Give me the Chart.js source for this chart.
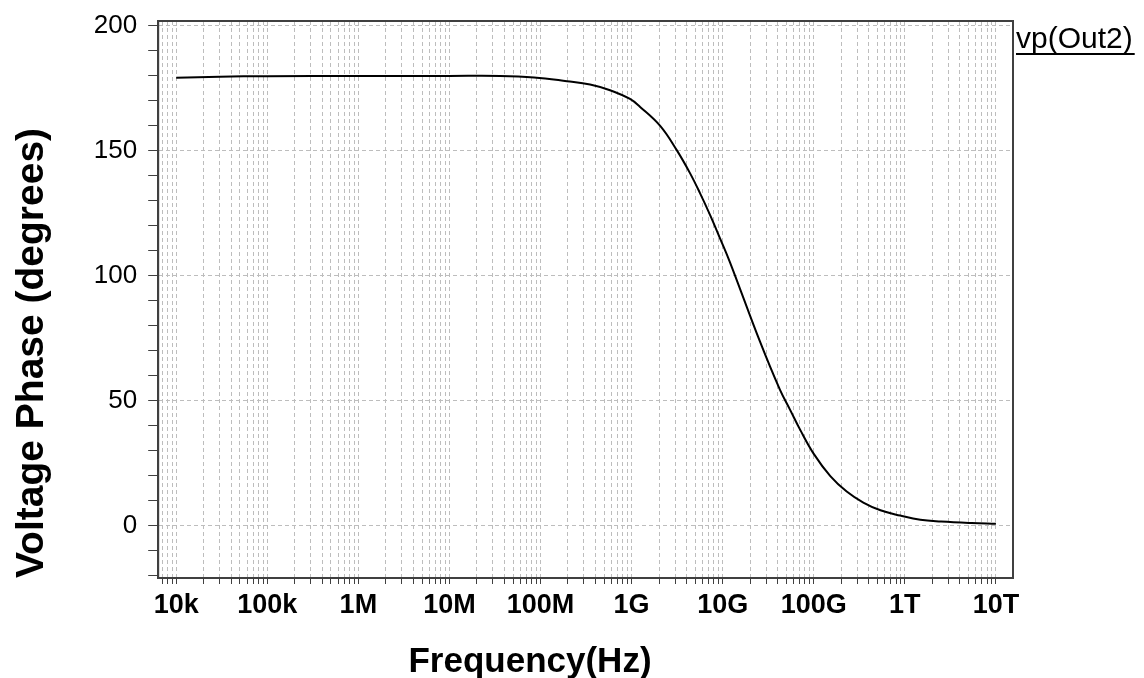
<!DOCTYPE html>
<html>
<head>
<meta charset="utf-8">
<script src="https://cdn.jsdelivr.net/npm/chart.js@4.4.0/dist/chart.umd.min.js"></script>
<style>
  html, body { margin: 0; padding: 0; background: #fff; }
</style>
</head>
<body>
<canvas id="phase-chart" width="1144" height="678"></canvas>
<script>
// Frequency (Hz) and phase (degrees)
const frequencies = [1e4, 3e4, 1e5, 1e6, 1e7, 3.6e7, 8.5e7, 1.95e8, 3.5e8, 5.8e8, 9.6e8, 1.24e9, 2.06e9, 3.13e9,
    4.39e9, 5.65e9, 7.28e9, 9.4e9, 1.2e10, 2.57e10, 4.26e10, 5.5e10, 7.1e10, 1e11, 1.52e11, 2.3e11, 3.5e11,
    5.4e11, 8.9e11, 1.48e12, 2.5e12, 5.4e12, 1e13];
const phaseOut2 = [179.3, 179.7, 179.9, 180, 180, 180, 179.4, 177.9, 176.6, 174.3, 170.8, 167.6, 160.0, 150.3,
    141.0, 133.0, 124.3, 114.8, 105.5, 73.6, 54.3, 46.3, 38.3, 28.7, 19.8, 13.6, 9.2,
    6.1, 4.0, 2.3, 1.6, 1.0, 0.7];

const decadeValues = [1e4, 1e5, 1e6, 1e7, 1e8, 1e9, 1e10, 1e11, 1e12, 1e13];
const decadeLabels = ['10k', '100k', '1M', '10M', '100M', '1G', '10G', '100G', '1T', '10T'];
const yLabelValues = [0, 50, 100, 150, 200];

const xMin = 6340;
const xMax = 1.54e13;

// minor ticks at 1..9 of every decade inside the axis range
const xTicks = [];
[1e3].concat(decadeValues).forEach(d => {
    for (let m = 1; m <= 9; m++) {
        const v = m * d;
        if (v >= xMin && v <= xMax) xTicks.push(v);
    }
});
const yTicks = [];
for (let v = -20; v <= 200; v += 10) yTicks.push(v);

Chart.defaults.font.family = '"Liberation Sans", Arial, sans-serif';

const framePlugin = {
    id: 'frame',
    afterDraw(chart) {
        const { ctx, chartArea: a } = chart;
        ctx.save();
        ctx.strokeStyle = '#404040';
        ctx.lineWidth = 2;
        ctx.strokeRect(a.left, a.top, a.right - a.left, a.bottom - a.top);

        // x axis title
        ctx.fillStyle = '#000';
        ctx.font = 'bold 35px "Liberation Sans", Arial, sans-serif';
        ctx.textAlign = 'center';
        ctx.textBaseline = 'alphabetic';
        ctx.fillText('Frequency(Hz)', 530, 672);

        // trace name, underlined
        ctx.font = '30px "Liberation Sans", Arial, sans-serif';
        ctx.textAlign = 'left';
        const name = chart.data.datasets[0].label;
        ctx.fillText(name, a.right + 3, 48);
        const w = ctx.measureText(name).width;
        ctx.fillRect(a.right + 3, 53, w + 2, 2);
        ctx.restore();
    }
};

const ctx = document.getElementById('phase-chart').getContext('2d');
new Chart(ctx, {
    type: 'line',
    data: {
        datasets: [{
            label: 'vp(Out2)',
            data: frequencies.map((f, i) => ({ x: f, y: phaseOut2[i] })),
            borderColor: '#000',
            borderWidth: 2,
            pointRadius: 0,
            tension: 0.4,
            fill: false
        }]
    },
    options: {
        responsive: false,
        animation: false,
        layout: { padding: { left: 9, right: 131, top: 21, bottom: 51.6 } },
        plugins: {
            legend: { display: false },
            tooltip: { enabled: false }
        },
        scales: {
            x: {
                type: 'logarithmic',
                min: xMin,
                max: xMax,
                afterBuildTicks: scale => { scale.ticks = xTicks.map(v => ({ value: v })); },
                ticks: {
                    autoSkip: false,
                    maxRotation: 0,
                    color: '#000',
                    padding: 5,
                    font: { size: 27, weight: 'bold' },
                    callback: value => {
                        const i = decadeValues.indexOf(value);
                        return i >= 0 ? decadeLabels[i] : '';
                    }
                },
                grid: { color: '#bdbdbd', lineWidth: 1, tickColor: '#404040', tickLength: 6, tickBorderDash: [] },
                border: { color: '#404040', width: 2, dash: [4, 3] }
            },
            y: {
                min: -21,
                max: 202,
                afterBuildTicks: scale => { scale.ticks = yTicks.map(v => ({ value: v })); },
                ticks: {
                    autoSkip: false,
                    color: '#000',
                    padding: 11,
                    font: { size: 26, lineHeight: 0.5 },
                    callback: value => yLabelValues.includes(value) ? String(value) : ''
                },
                grid: {
                    color: c => (c.tick && yLabelValues.includes(c.tick.value)) ? '#bdbdbd' : 'rgba(0,0,0,0)',
                    lineWidth: 1,
                    tickColor: '#404040',
                    tickLength: 10,
                    tickBorderDash: []
                },
                border: { color: '#404040', width: 2, dash: [4, 3] },
                title: {
                    display: true,
                    text: 'Voltage Phase (degrees)',
                    align: 'start',
                    color: '#000',
                    font: { size: 39, weight: 'bold' },
                    padding: { top: 0, bottom: 27 }
                }
            }
        }
    },
    plugins: [framePlugin]
});
</script>
</body>
</html>
